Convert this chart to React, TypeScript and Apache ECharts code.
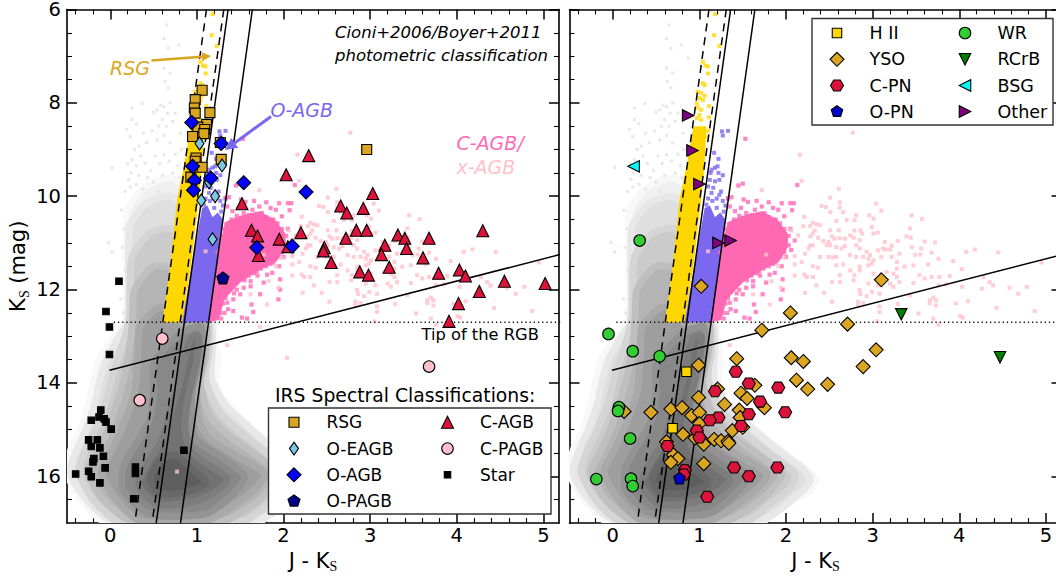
import React, { useEffect, useRef } from "react";
import * as echarts from "echarts";

type P = number[];

// ---------- Axis ticks ----------
const xMajor = [0, 1, 2, 3, 4, 5];
const xMinor = [-0.4, -0.2, 0.2, 0.4, 0.6, 0.8, 1.2, 1.4, 1.6, 1.8, 2.2, 2.4, 2.6, 2.8, 3.2, 3.4, 3.6, 3.8, 4.2, 4.4, 4.6, 4.8, 5.2];
const yMajor = [6, 8, 10, 12, 14, 16];
const yMinor = [6.5, 7, 7.5, 8.5, 9, 9.5, 10.5, 11, 11.5, 12.5, 13, 13.5, 14.5, 15, 15.5, 16.5];

// ---------- Gray density contours (J-Ks, Ks), from faintest to darkest ----------
const densityGrays = ["#f0f0f0", "#dfdfdf", "#cbcbcb", "#b4b4b4", "#9e9e9e", "#888888", "#727272", "#5e5e5e"];
const densityEdges = ["#f8f8f8", "#e8e8e8", "#d5d5d5", "#bfbfbf", "#a9a9a9", "#939393", "#7d7d7d", "#686868"];
const density1: P[] = [[0.2, 10.3], [0.4, 9.8], [0.7, 9.6], [0.85, 9.8], [0.88, 10.5], [0.85, 11.5], [0.8, 12.7], [1.18, 12.7], [1.2, 13.0], [1.24, 13.5], [1.22, 14.0], [1.35, 14.45], [1.6, 14.9], [1.85, 15.3], [2.2, 15.8], [2.35, 16.05], [2.25, 16.35], [2.0, 16.6], [1.7, 16.98], [-0.05, 16.98], [-0.37, 16.4], [-0.5, 15.9], [-0.45, 15.4], [-0.34, 15.0], [-0.25, 14.45], [-0.2, 14.0], [-0.13, 13.5], [0.05, 13.0], [0.17, 12.7], [0.19, 11.5], [0.19, 11.0]];
const density2: P[] = [[0.23, 10.6], [0.42, 10.15], [0.7, 10.0], [0.85, 10.3], [0.85, 12.7], [1.15, 12.7], [1.18, 13.2], [1.17, 13.9], [1.32, 14.45], [1.6, 14.95], [1.85, 15.35], [2.2, 15.85], [2.28, 16.1], [2.1, 16.45], [1.75, 16.9], [0.0, 16.92], [-0.32, 16.4], [-0.46, 15.9], [-0.38, 15.4], [-0.28, 15.0], [-0.18, 14.45], [-0.13, 14.0], [-0.05, 13.5], [0.1, 13.0], [0.2, 12.7], [0.21, 11.5], [0.21, 11.0]];
const density3: P[] = [[0.25, 11.3], [0.45, 10.8], [0.72, 10.7], [0.8, 11.2], [0.8, 12.7], [1.12, 12.7], [1.14, 13.3], [1.1, 13.9], [1.25, 14.6], [1.5, 15.05], [1.8, 15.5], [2.1, 15.95], [2.05, 16.25], [1.85, 16.55], [1.55, 16.95], [0.1, 16.96], [-0.2, 16.5], [-0.36, 15.9], [-0.28, 15.4], [-0.15, 14.9], [-0.05, 14.4], [0.03, 13.8], [0.14, 13.2], [0.22, 12.6], [0.23, 11.9]];
const density4: P[] = [[0.28, 12.0], [0.5, 11.5], [0.75, 11.6], [0.8, 12.7], [1.1, 12.7], [1.1, 13.4], [1.04, 14.0], [1.15, 14.7], [1.35, 15.1], [1.65, 15.5], [1.95, 15.95], [1.85, 16.25], [1.65, 16.6], [1.3, 16.96], [0.25, 16.96], [-0.08, 16.5], [-0.25, 15.9], [-0.15, 15.5], [-0.03, 15.0], [0.08, 14.4], [0.17, 13.8], [0.24, 13.0], [0.26, 12.5]];
const density5: P[] = [[0.34, 12.8], [0.55, 12.4], [0.78, 12.45], [0.82, 12.72], [1.07, 12.72], [1.06, 13.5], [1.0, 14.1], [1.02, 14.8], [1.15, 15.2], [1.45, 15.55], [1.78, 15.95], [1.65, 16.3], [1.4, 16.65], [1.1, 16.96], [0.35, 16.96], [0.05, 16.45], [-0.1, 15.9], [0.03, 15.4], [0.15, 14.9], [0.28, 14.2], [0.32, 13.4]];
const density6: P[] = [[0.5, 13.6], [0.8, 12.95], [1.05, 12.8], [1.04, 13.5], [0.95, 14.1], [0.94, 14.7], [0.98, 15.2], [1.25, 15.55], [1.55, 16.0], [1.4, 16.4], [1.1, 16.8], [0.45, 16.8], [0.15, 16.3], [0.15, 15.8], [0.3, 15.3], [0.45, 14.8], [0.5, 14.2]];
const density7: P[] = [[0.93, 13.05], [1.02, 13.0], [0.99, 13.6], [0.9, 14.3], [0.86, 15.0], [0.95, 15.5], [1.35, 16.05], [1.2, 16.35], [0.95, 16.55], [0.55, 16.6], [0.33, 16.2], [0.42, 15.75], [0.6, 15.2], [0.7, 14.6], [0.8, 14.0], [0.87, 13.4]];
const density8: P[] = [[0.58, 15.65], [0.75, 15.55], [0.95, 15.85], [1.1, 16.15], [0.85, 16.35], [0.55, 16.35], [0.46, 16.05]];
const densityContours = [density1, density2, density3, density4, density5, density6, density7, density8];

const graySpecks: P[] = [[0.65, 6.33], [0.62, 6.62], [0.67, 6.83], [0.79, 6.76], [0.87, 7.04], [0.62, 7.26], [0.69, 7.36], [0.63, 7.54], [0.67, 7.68], [0.25, 8.11], [0.37, 8.02], [0.54, 8.15], [0.62, 8.08], [0.69, 8.0], [0.25, 8.36], [0.19, 8.57], [0.23, 8.72], [0.38, 8.65], [0.6, 8.36], [0.65, 8.5], [0.75, 8.22], [0.02, 9.39], [0.33, 8.93], [0.54, 8.79], [0.69, 8.86], [0.81, 8.65], [0.52, 9.14], [0.62, 9.11], [0.25, 9.22], [0.35, 9.14], [0.21, 9.64], [-0.02, 10.99], [0.02, 11.2], [0.58, 8.05], [0.5, 8.2], [0.66, 8.22], [0.72, 8.4], [0.56, 8.5], [0.62, 8.7], [0.48, 8.6], [0.3, 8.45], [0.42, 8.85], [0.28, 9.0], [0.2, 9.3], [0.3, 9.35], [0.4, 9.3], [0.47, 9.45], [0.57, 9.3], [0.68, 9.25], [0.75, 9.1], [0.82, 9.0], [0.78, 9.35], [0.24, 9.5], [0.33, 9.55], [0.43, 9.6], [0.17, 9.9], [0.13, 10.3], [0.16, 10.7], [0.14, 11.1], [0.17, 11.6], [0.12, 12.2], [0.15, 12.5], [0.23, 9.8], [0.3, 9.75], [0.38, 9.85], [0.5, 9.7], [0.6, 9.55], [0.72, 9.5], [0.8, 9.6], [0.55, 9.9]];

// ---------- Photometric regions ----------
const rsgRegion: P[] = [[0.93, 8.5], [0.85, 9.36], [0.77, 10.07], [0.69, 11.5], [0.6, 12.7], [0.83, 12.7], [0.93, 11.5], [1.02, 10.07], [1.06, 9.36], [1.08, 8.5]];
const oagbRegion: P[] = [[1.06, 10.25], [0.94, 11.5], [0.83, 12.7], [1.14, 12.7], [1.22, 11.5], [1.3, 10.5], [1.24, 10.35], [1.18, 10.45], [1.12, 10.2]];
const cagbRegion: P[] = [[1.14, 12.7], [1.22, 11.5], [1.28, 10.9], [1.33, 10.55], [1.5, 10.42], [1.72, 10.32], [1.9, 10.5], [2.02, 10.8], [2.02, 11.1], [1.92, 11.4], [1.7, 11.6], [1.5, 11.85], [1.32, 12.2], [1.25, 12.65]];

const rsgPoints: P[] = [[1.18, 6.1], [1.17, 6.55], [1.23, 6.78], [1.04, 7.12], [1.07, 7.2], [1.1, 7.22], [1.1, 7.37], [1.04, 7.58], [1.06, 7.62], [0.98, 7.76], [1.02, 7.79], [1.06, 7.85], [1.0, 7.9], [1.04, 7.94], [0.97, 8.01], [0.98, 8.1], [1.11, 8.07], [1.02, 8.15], [1.0, 8.26], [0.97, 8.33], [1.11, 8.31], [1.02, 8.36], [1.1, 8.6], [1.07, 8.72]];
const oagbPoints: P[] = [[1.26, 8.61], [1.33, 8.6], [1.27, 8.7], [1.17, 9.07], [1.22, 9.2], [1.21, 9.36], [1.18, 9.39], [1.14, 9.43], [1.13, 9.5], [1.22, 9.5], [1.27, 9.55], [1.12, 9.65], [1.18, 9.68], [1.23, 9.65], [1.1, 9.79], [1.16, 9.82], [1.25, 9.9], [1.14, 9.93], [1.23, 9.97], [1.1, 10.05], [1.15, 10.1], [1.2, 10.05], [1.27, 10.1], [1.3, 10.2], [1.08, 10.18], [1.2, 10.25], [1.28, 10.33], [1.33, 10.05]];
const cagbPoints: P[] = [[1.53, 8.77], [1.45, 9.77], [1.5, 9.73], [2.13, 9.76], [1.37, 10.02], [1.33, 10.04], [1.51, 10.07], [1.56, 10.12], [1.66, 10.1], [1.8, 10.13], [1.72, 10.22], [1.95, 10.15], [2.05, 10.15], [2.09, 10.15], [1.35, 10.22], [1.41, 10.32], [1.48, 10.25], [1.54, 10.36], [1.64, 10.29], [1.75, 10.36], [1.85, 10.25], [1.91, 10.29], [1.98, 10.43], [2.07, 10.3], [2.05, 10.7], [2.1, 10.95], [2.06, 11.15], [1.69, 11.61], [1.81, 11.68], [1.87, 11.64], [1.96, 11.78], [1.77, 11.85], [1.62, 11.93], [1.54, 11.96], [1.73, 12.1], [1.94, 12.21], [1.65, 12.48], [1.42, 12.46], [1.52, 12.6], [1.35, 12.28], [1.31, 12.1], [1.42, 12.21], [1.63, 12.32], [1.96, 12.0], [1.58, 12.62], [1.36, 12.42], [1.27, 12.5], [1.5, 12.1], [1.46, 12.0], [2.0, 11.3], [1.95, 11.5], [1.85, 11.45],
  [1.34, 10.6], [1.4, 10.5], [1.46, 10.42], [1.55, 10.5], [1.6, 10.4], [1.68, 10.42], [1.73, 10.48], [1.8, 10.45], [1.88, 10.5], [1.93, 10.58], [1.98, 10.7], [2.03, 10.85], [2.0, 10.95], [2.03, 11.05], [1.98, 11.2], [1.93, 11.3], [1.88, 11.42], [1.8, 11.5], [1.74, 11.55], [1.66, 11.65], [1.6, 11.7], [1.55, 11.8], [1.46, 11.85], [1.41, 11.95], [1.36, 12.05], [1.3, 12.3], [1.25, 12.38], [1.22, 12.6], [1.28, 10.85], [1.3, 10.95], [1.31, 10.7], [1.24, 11.2], [1.58, 10.58], [1.7, 11.7], [1.62, 11.82], [1.43, 12.08], [1.33, 12.18], [1.28, 12.62], [1.32, 12.5], [1.82, 10.55], [1.44, 10.62]];
const xagbPoints: P[] = [[2.77, 8.64], [2.16, 9.11], [2.18, 9.67], [1.72, 9.87], [2.61, 9.84], [2.51, 10.03], [2.62, 10.13], [2.41, 10.21], [2.46, 10.23], [2.62, 10.24], [2.51, 10.34], [2.66, 10.34], [3.04, 10.16], [3.1, 10.31], [2.81, 10.41], [2.96, 10.41], [3.45, 10.41], [3.57, 10.49], [2.7, 10.51], [2.58, 10.53], [2.79, 10.51], [3.01, 10.48], [2.21, 10.44], [2.31, 10.57], [2.35, 10.6], [2.39, 10.62], [2.28, 10.64], [2.51, 10.73], [2.61, 10.73], [2.79, 10.74], [2.86, 10.73], [2.88, 10.8], [2.99, 10.66], [3.01, 10.8], [3.06, 10.78], [3.43, 10.69], [3.39, 10.86], [3.44, 10.89], [2.33, 10.73], [2.31, 10.8], [2.28, 10.86], [2.37, 10.89], [2.43, 10.96], [2.49, 10.98], [2.53, 10.86], [2.56, 10.91], [2.62, 10.9], [2.68, 10.91], [2.74, 10.84], [2.78, 10.89], [2.85, 10.94], [3.14, 10.98], [3.22, 11.06], [3.29, 10.96], [3.6, 10.97], [3.72, 10.99], [3.56, 11.12], [3.45, 11.09], [3.15, 11.14], [2.28, 11.05], [2.31, 11.05], [2.26, 11.12], [2.47, 11.05], [2.51, 11.05], [2.58, 11.09], [2.64, 11.12], [2.68, 11.07], [2.81, 11.05], [2.85, 11.12], [2.93, 11.19], [2.97, 11.26], [3.06, 11.16], [3.12, 11.12], [3.2, 11.14], [3.31, 11.23], [3.49, 11.26], [3.55, 11.25], [3.68, 11.21], [4.08, 11.19], [4.18, 11.14], [4.45, 11.2], [3.93, 11.39], [4.95, 11.42], [2.22, 11.23], [2.39, 11.3], [2.49, 11.3], [2.54, 11.31], [2.58, 11.3], [2.74, 11.26], [2.81, 11.3], [2.89, 11.3], [2.95, 11.34], [3.01, 11.37], [3.1, 11.3], [3.22, 11.3], [3.28, 11.41], [3.47, 11.48], [3.64, 11.46], [3.76, 11.34], [2.18, 11.41], [2.31, 11.5], [2.37, 11.53], [2.58, 11.48], [2.66, 11.46], [2.74, 11.59], [2.85, 11.51], [2.95, 11.48], [2.99, 11.44], [3.28, 11.55], [3.37, 11.51], [3.54, 11.69], [3.6, 11.76], [3.68, 11.73], [3.77, 11.73], [3.89, 11.71], [4.03, 11.56], [2.24, 11.73], [2.31, 11.73], [2.53, 11.84], [2.62, 11.84], [2.62, 11.69], [2.79, 11.69], [2.85, 11.59], [3.01, 11.66], [3.16, 11.62], [3.24, 11.66], [3.28, 11.73], [3.47, 11.86], [3.76, 11.91], [3.85, 11.89], [4.03, 11.94], [4.28, 11.73], [4.35, 11.84], [2.22, 12.07], [2.35, 11.91], [2.44, 12.07], [2.78, 11.8], [2.95, 11.87], [3.2, 11.87], [3.31, 11.84], [3.43, 12.12], [2.85, 12.01], [2.99, 12.05], [3.08, 12.09], [2.93, 12.14], [2.86, 12.09], [3.06, 11.91], [3.24, 11.94], [4.26, 11.98], [4.39, 11.91], [4.58, 11.96], [4.68, 12.09], [4.78, 11.94], [2.53, 12.26], [2.83, 12.26], [2.89, 12.29], [2.83, 12.34], [3.08, 12.36], [3.29, 12.31], [3.66, 12.23], [3.7, 12.17], [3.73, 12.23], [3.66, 12.29], [3.73, 12.34], [3.96, 12.3], [4.1, 12.25], [4.43, 12.39], [4.87, 12.46], [3.53, 12.51], [4.01, 12.57], [4.04, 12.6], [3.7, 12.62], [3.08, 12.48], [3.05, 12.68], [3.76, 12.75], [1.1, 11.18], [2.06, 10.73], [2.2, 10.64], [2.14, 10.84], [2.1, 11.28], [1.77, 11.25], [1.98, 11.32], [2.1, 11.46], [1.91, 11.5], [1.83, 11.82], [1.94, 11.96], [1.62, 12.1], [1.81, 12.32], [2.1, 11.7], [2.21, 11.68], [1.73, 12.8], [1.35, 13.19], [2.04, 13.46], [0.77, 15.9]];

// ---------- Selection lines ----------
const dashedLeft: P[] = [[1.11, 6], [0.29, 16.9]];
const dashedRight: P[] = [[1.31, 6], [0.49, 16.9]];
const solidLeft: P[] = [[1.36, 6], [0.53, 17]];
const solidRight: P[] = [[1.64, 6], [0.81, 17]];
const slopedLine: P[] = [[-0.01, 13.73], [5.19, 11.25]];
const tipRgb: P[] = [[0.04, 12.7], [5.2, 12.7]];

// ---------- Left panel: IRS classifications ----------
const rsg: P[] = [[1.06, 7.73], [0.98, 7.93], [0.97, 8.11], [0.98, 8.22], [1.15, 8.21], [1.11, 8.46], [1.01, 8.52], [1.09, 8.57], [0.95, 8.72], [1.08, 8.66], [1.27, 8.85], [1.28, 9.21], [0.99, 9.18], [0.98, 9.25], [1.06, 9.38], [0.93, 9.59], [2.96, 9.0]];
const oEagb: P[] = [[1.03, 8.87], [1.29, 9.34], [1.05, 10.09], [1.21, 10.0], [1.18, 10.92], [1.14, 9.7]];
const oAgb: P[] = [[0.94, 8.42], [1.28, 8.87], [0.95, 9.36], [0.97, 9.66], [0.96, 9.87], [1.16, 9.61], [1.54, 9.71], [2.26, 9.91], [1.69, 11.1], [2.1, 11.07]];
const oPagb: P[] = [[1.3, 11.75]];
const cAgb: P[] = [[2.29, 9.13], [2.03, 9.54], [1.52, 10.16], [1.63, 10.73], [1.7, 10.85], [1.95, 10.92], [2.2, 10.78], [2.05, 11.08], [1.71, 11.27], [3.03, 9.94], [2.66, 10.21], [2.73, 10.36], [2.92, 10.26], [2.84, 10.73], [2.96, 10.73], [2.72, 10.9], [2.47, 11.1], [2.46, 11.17], [2.55, 11.42], [2.88, 11.62], [2.98, 11.69], [3.32, 10.83], [3.4, 10.9], [3.17, 11.05], [3.13, 11.25], [3.42, 11.12], [3.68, 10.9], [3.22, 11.52], [3.61, 11.32], [3.79, 11.65], [4.3, 10.74], [4.03, 11.58], [4.1, 11.71], [4.26, 12.04], [4.55, 11.82], [5.02, 11.87], [4.02, 12.3], [3.91, 12.68]];
const cPagb: P[] = [[0.6, 13.05], [0.34, 14.37], [3.68, 13.65]];
const star: P[] = [[0.1, 11.82], [-0.05, 12.47], [-0.01, 12.8], [-0.01, 13.39], [-0.11, 14.58], [-0.13, 14.73], [-0.22, 14.8], [-0.07, 14.77], [-0.05, 14.84], [0.01, 14.99], [-0.25, 15.22], [-0.15, 15.22], [-0.22, 15.36], [-0.12, 15.39], [-0.08, 15.57], [-0.19, 15.62], [-0.2, 15.69], [-0.06, 15.82], [-0.25, 15.89], [-0.22, 16.01], [-0.12, 16.14], [-0.4, 15.95], [0.29, 15.8], [0.29, 15.94], [0.27, 16.48], [0.85, 15.44]];

// ---------- Right panel: other classes ----------
const hII: P[] = [[0.85, 13.76], [0.69, 14.97]];
const yso: P[] = [[1.02, 11.93], [2.05, 12.5], [1.72, 12.87], [1.43, 13.48], [0.99, 13.62], [2.06, 13.46], [2.2, 13.54], [2.12, 13.94], [2.25, 14.13], [2.48, 14.03], [1.64, 14.05], [1.21, 14.13], [1.48, 14.22], [1.55, 14.33], [0.99, 14.31], [1.29, 14.46], [1.75, 14.53], [0.44, 14.63], [0.13, 14.61], [0.67, 14.56], [0.8, 14.53], [0.91, 14.7], [1.0, 14.63], [1.46, 14.58], [1.47, 14.74], [1.0, 14.87], [1.5, 14.95], [1.38, 15.02], [0.81, 15.1], [0.62, 15.26], [0.95, 15.18], [1.04, 15.24], [1.05, 15.31], [1.17, 15.21], [1.25, 15.24], [1.33, 15.25], [1.34, 15.29], [0.7, 15.54], [0.75, 15.62], [0.67, 15.7], [1.05, 15.73], [3.1, 11.79], [2.71, 12.74], [3.04, 13.29], [2.89, 13.65]];
const cPn: P[] = [[1.42, 13.76], [1.57, 14.01], [1.91, 14.1], [1.18, 14.18], [1.7, 14.4], [1.99, 14.63], [1.57, 14.67], [1.22, 14.74], [1.12, 14.8], [1.48, 14.92], [0.97, 15.02], [1.0, 15.17], [0.63, 15.35], [0.83, 15.87], [0.82, 15.96], [1.4, 15.81], [1.57, 16.0], [1.9, 15.81], [1.09, 16.44]];
const oPn: P[] = [[0.77, 16.04]];
const wr: P[] = [[0.31, 10.95], [-0.05, 12.95], [0.23, 13.32], [0.54, 13.43], [0.07, 14.52], [0.06, 14.6], [0.2, 15.19], [-0.19, 16.06], [0.21, 16.05], [0.23, 16.21]];
const rcrb: P[] = [[3.33, 12.53], [4.47, 13.45]];
const bsg: P[] = [[0.24, 9.36]];
const other: P[] = [[0.87, 8.27], [0.92, 9.02], [1.0, 9.74], [1.22, 11.0], [1.36, 10.95]];

// ---------- Labels ----------
const leftLegendTitle = "IRS Spectral Classifications:";
const leftLegendCol1 = ["RSG", "O-EAGB", "O-AGB", "O-PAGB"];
const leftLegendCol2 = ["C-AGB", "C-PAGB", "Star"];
const rightLegendCol1 = ["H II", "YSO", "C-PN", "O-PN"];
const rightLegendCol2 = ["WR", "RCrB", "BSG", "Other"];

// ---------- Styling ----------
const FONT = '"DejaVu Sans"';
const PENTAGON = "path://M0,-10 L9.51,-3.09 L5.88,8.09 L-5.88,8.09 L-9.51,-3.09 Z";
const HEXAGON = "path://M-10,0 L-5,-8.66 L5,-8.66 L10,0 L5,8.66 L-5,8.66 Z";

type Mark = { symbol: string; size: any; color: string; rotate?: number };
const M: Record<string, Mark> = {
  RSG: { symbol: "rect", size: 10, color: "#DAA520" },
  "O-EAGB": { symbol: "diamond", size: [9, 13], color: "#7CC8E0" },
  "O-AGB": { symbol: "diamond", size: 14, color: "#0000FF" },
  "O-PAGB": { symbol: PENTAGON, size: 12, color: "#00008B" },
  "C-AGB": { symbol: "triangle", size: 12, color: "#DC143C" },
  "C-PAGB": { symbol: "circle", size: 11.5, color: "#FFC0CB" },
  Star: { symbol: "rect", size: 6.5, color: "#000000" },
  "H II": { symbol: "rect", size: 9.5, color: "#FFD700" },
  YSO: { symbol: "diamond", size: 14, color: "#DAA520" },
  "C-PN": { symbol: HEXAGON, size: [13, 11], color: "#DC143C" },
  "O-PN": { symbol: PENTAGON, size: 11.5, color: "#0000CD" },
  WR: { symbol: "circle", size: 11.5, color: "#32CD32" },
  RCrB: { symbol: "triangle", size: 11.5, color: "#008000", rotate: 180 },
  BSG: { symbol: "triangle", size: 11.5, color: "#00FFFF", rotate: 90 },
  Other: { symbol: "triangle", size: 11.5, color: "#800080", rotate: -90 },
};

const G_TOP = 9.5;
const G_H = 513.5;
const G_W = 492;
const G_LEFT = [67, 569.5];

function axisPair(kind: "x" | "y", grid: number, pos: string, labelled: boolean, name: string | undefined) {
  const isX = kind === "x";
  const range = isX ? { min: -0.5, max: 5.18 } : { min: 6, max: 17, inverse: true };
  const major = isX ? xMajor : yMajor;
  const minor = isX ? xMinor : yMinor;
  const common: any = {
    type: "value",
    gridIndex: grid,
    position: pos,
    ...range,
    splitLine: { show: false },
    axisLine: { show: true, onZero: false, lineStyle: { color: "#000", width: 1.6 } },
  };
  const main: any = {
    ...common,
    axisTick: { show: true, inside: true, length: 10, customValues: major, lineStyle: { color: "#000", width: 1.5 } },
    axisLabel: labelled
      ? { show: true, customValues: major, color: "#000", fontFamily: FONT, fontSize: 19.5, lineHeight: 15, margin: isX ? 5 : 6 }
      : { show: false },
  };
  if (name) {
    main.name = name;
    main.nameLocation = "middle";
    main.nameGap = isX ? 24 : 36;
    if (!isX) main.nameRotate = 90;
    main.nameTextStyle = {
      color: "#000",
      fontFamily: FONT,
      fontSize: 21,
      rich: {
        k: { fontFamily: FONT, fontSize: 21, color: "#000", lineHeight: 26 },
        s: { fontFamily: '"Liberation Serif"', fontSize: 14, color: "#000", verticalAlign: "bottom", lineHeight: 22 },
      },
    };
  }
  const mnr: any = {
    ...common,
    axisLine: { show: false, onZero: false },
    axisTick: { show: true, inside: true, length: 5, customValues: minor, lineStyle: { color: "#000", width: 1.1 } },
    axisLabel: { show: false },
  };
  return [main, mnr];
}

function buildAxes(kind: "x" | "y") {
  const out: any[] = [];
  [0, 1].forEach((g) => {
    const pos1 = kind === "x" ? "bottom" : "left";
    const pos2 = kind === "x" ? "top" : "right";
    const labelled = kind === "x" || g === 0;
    const name = kind === "x" ? "{k|J - K}{s|S}" : g === 0 ? "{k|K}{s|S}{k| (mag)}" : undefined;
    out.push(...axisPair(kind, g, pos1, labelled, name));
    out.push(...axisPair(kind, g, pos2, false, undefined));
  });
  return out;
}

function regionSeries(panel: number, polys: P[][], colors: string[], edges: string[] | null, z: number, smooth: number) {
  return {
    type: "custom",
    xAxisIndex: panel * 4,
    yAxisIndex: panel * 4,
    clip: true,
    silent: true,
    z,
    data: polys.map((p) => p[0]),
    renderItem: (params: any, api: any) => ({
      type: "polygon",
      shape: { points: polys[params.dataIndex].map((v) => api.coord(v)), smooth },
      style: {
        fill: colors[params.dataIndex],
        stroke: edges ? edges[params.dataIndex] : "none",
        lineWidth: edges ? 7 : 0,
        lineJoin: "round",
      },
    }),
  };
}

function dots(panel: number, data: P[], color: string, size: number, z: number) {
  return {
    type: "scatter",
    xAxisIndex: panel * 4,
    yAxisIndex: panel * 4,
    symbol: "rect",
    symbolSize: size,
    silent: true,
    z,
    itemStyle: { color, borderWidth: 0 },
    data,
  };
}

function lineSeries(panel: number, data: P[], type: any, width: number) {
  return {
    type: "line",
    xAxisIndex: panel * 4,
    yAxisIndex: panel * 4,
    symbol: "none",
    silent: true,
    z: 6,
    lineStyle: { color: "#000", width, type },
    data,
  };
}

function markers(panel: number, name: string, data: P[], z: number) {
  const m = M[name];
  return {
    type: "scatter",
    name,
    xAxisIndex: panel * 4,
    yAxisIndex: panel * 4,
    symbol: m.symbol,
    symbolSize: m.size,
    symbolRotate: m.rotate || 0,
    z,
    clip: false,
    itemStyle: { color: m.color, borderColor: "#000", borderWidth: 1.1, opacity: 1 },
    data,
  };
}

function panelSeries(panel: number) {
  return [
    regionSeries(panel, densityContours, densityGrays, densityEdges, 2, 0.25),
    dots(panel, graySpecks, "#e2e2e2", 3, 2),
    regionSeries(panel, [rsgRegion, oagbRegion, cagbRegion], ["#FFD700", "#7B68EE", "#FF69B4"], null, 3, 0),
    dots(panel, rsgPoints, "#FFD700", 4, 3),
    dots(panel, oagbPoints, "#7B68EE", 4, 3),
    dots(panel, cagbPoints, "#FF69B4", 4.2, 3),
    dots(panel, xagbPoints, "#FFC0CB", 4, 3),
    lineSeries(panel, dashedLeft, [8, 6], 1.5),
    lineSeries(panel, dashedRight, [8, 6], 1.5),
    lineSeries(panel, solidLeft, "solid", 1.5),
    lineSeries(panel, solidRight, "solid", 1.5),
    lineSeries(panel, slopedLine, "solid", 1.5),
    lineSeries(panel, tipRgb, [1.2, 3], 1.3),
  ];
}

function legendIcon(name: string, cx: number, cy: number): any {
  const m = M[name];
  const style = { fill: m.color, stroke: "#000", lineWidth: 1.1 };
  const sz = Array.isArray(m.size) ? m.size : [m.size, m.size];
  const w = sz[0] / 2;
  const h = sz[1] / 2;
  const z = 101;
  if (m.symbol === "rect") return { type: "rect", z, shape: { x: cx - w, y: cy - h, width: w * 2, height: h * 2 }, style };
  if (m.symbol === "circle") return { type: "circle", z, shape: { cx, cy, r: w }, style };
  let pts: P[] = [];
  if (m.symbol === "diamond") pts = [[cx, cy - h], [cx + w, cy], [cx, cy + h], [cx - w, cy]];
  else if (m.symbol === PENTAGON) pts = [[cx, cy - h], [cx + w, cy - h * 0.3], [cx + w * 0.62, cy + h * 0.85], [cx - w * 0.62, cy + h * 0.85], [cx - w, cy - h * 0.3]];
  else if (m.symbol === HEXAGON) pts = [[cx - w, cy], [cx - w / 2, cy - h], [cx + w / 2, cy - h], [cx + w, cy], [cx + w / 2, cy + h], [cx - w / 2, cy + h]];
  else if (m.rotate === 180) pts = [[cx - w, cy - h], [cx + w, cy - h], [cx, cy + h]];
  else if (m.rotate === 90) pts = [[cx - w, cy], [cx + w, cy - h], [cx + w, cy + h]];
  else if (m.rotate === -90) pts = [[cx + w, cy], [cx - w, cy - h], [cx - w, cy + h]];
  else pts = [[cx, cy - h], [cx + w, cy + h], [cx - w, cy + h]];
  return { type: "polygon", z, shape: { points: pts }, style };
}

function label(text: string, x: number, y: number, font: string, fill = "#000"): any {
  return { type: "text", z: 102, style: { text, x, y, font, fill, verticalAlign: "middle", align: "left" } };
}

function legendBlock(x: number, y: number, w: number, h: number, cols: { names: string[]; icon: number; text: number }[], rows: number[], size: number): any[] {
  const out: any[] = [
    { type: "rect", z: 100, shape: { x, y, width: w, height: h }, style: { fill: "#fff", stroke: "#333", lineWidth: 1.4 } },
  ];
  cols.forEach((c) =>
    c.names.forEach((n, i) => {
      out.push(legendIcon(n, c.icon, rows[i]));
      out.push(label(n, c.text, rows[i], `${size}px ${FONT}`));
    })
  );
  return out;
}

function arrow(x1: number, y1: number, x2: number, y2: number, color: string, width: number, head: number): any[] {
  const a = Math.atan2(y2 - y1, x2 - x1);
  const bx = x2 - head * Math.cos(a);
  const by = y2 - head * Math.sin(a);
  const nx = -Math.sin(a) * head * 0.5;
  const ny = Math.cos(a) * head * 0.5;
  return [
    { type: "line", z: 50, shape: { x1, y1, x2: bx, y2: by }, style: { stroke: color, lineWidth: width } },
    { type: "polygon", z: 50, shape: { points: [[x2, y2], [bx + nx, by + ny], [bx - nx, by - ny]] }, style: { fill: color } },
  ];
}

export default function App() {
  const ref = useRef<HTMLDivElement>(null);
  useEffect(() => {
    document.body.style.margin = "0";
    document.body.style.background = "#fff";
    const chart = echarts.init(ref.current!, undefined, { renderer: "svg" });
    const series: any[] = [
      ...panelSeries(0),
      ...panelSeries(1),
      markers(0, "RSG", rsg, 10),
      markers(0, "O-EAGB", oEagb, 11),
      markers(0, "O-AGB", oAgb, 12),
      markers(0, "O-PAGB", oPagb, 13),
      markers(0, "C-AGB", cAgb, 11),
      markers(0, "C-PAGB", cPagb, 13),
      markers(0, "Star", star, 13),
      markers(1, "YSO", yso, 10),
      markers(1, "H II", hII, 12),
      markers(1, "C-PN", cPn, 11),
      markers(1, "O-PN", oPn, 13),
      markers(1, "WR", wr, 12),
      markers(1, "RCrB", rcrb, 12),
      markers(1, "BSG", bsg, 12),
      markers(1, "Other", other, 12),
    ];
    const graphic: any[] = [
      label("Cioni+2006/Boyer+2011", 335, 32, `italic 16.5px ${FONT}`),
      label("photometric classification", 335, 55, `italic 16.5px ${FONT}`),
      label("Tip of the RGB", 421.5, 334, `16.3px ${FONT}`),
      label("RSG", 110, 68, `italic 19px ${FONT}`, "#DAA520"),
      ...arrow(151.5, 60.5, 211, 56, "#DAA520", 2.5, 9),
      label("O-AGB", 270.5, 110, `italic 19px ${FONT}`, "#7B68EE"),
      ...arrow(271, 116.5, 225, 150, "#7B68EE", 3, 12),
      label("C-AGB/", 456.5, 143, `italic 19px ${FONT}`, "#FF69B4"),
      label("x-AGB", 456.5, 166.5, `italic 19px ${FONT}`, "#FFC0CB"),
      label(leftLegendTitle, 275, 395.5, `18.8px ${FONT}`),
      ...legendBlock(268.5, 408, 282.5, 106, [
        { names: leftLegendCol1, icon: 294, text: 326.5 },
        { names: leftLegendCol2, icon: 447.5, text: 480 },
      ], [422.3, 448.6, 474.8, 501], 17),
      ...legendBlock(812, 18.5, 241, 106.5, [
        { names: rightLegendCol1, icon: 837, text: 869.5 },
        { names: rightLegendCol2, icon: 965, text: 997.5 },
      ], [33, 59.3, 85.5, 111.5], 17.5),
    ];
    chart.setOption({
      animation: false,
      backgroundColor: "#fff",
      grid: G_LEFT.map((left) => ({ left, top: G_TOP, width: G_W, height: G_H, containLabel: false, outerBoundsMode: "none" })),
      xAxis: buildAxes("x"),
      yAxis: buildAxes("y"),
      series,
      graphic,
    });
    return () => chart.dispose();
  }, []);
  return <div ref={ref} style={{ width: 1056, height: 577, overflow: "hidden" }} />;
}
